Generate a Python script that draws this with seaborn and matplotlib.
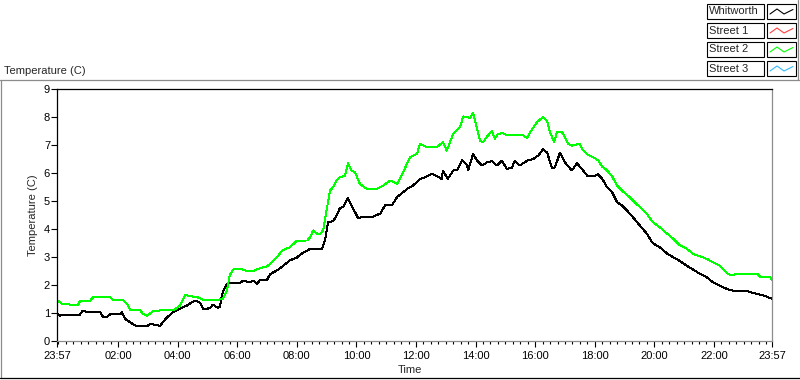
import matplotlib
matplotlib.use('Agg')
import matplotlib.pyplot as plt
import seaborn as sns
import pandas as pd
from matplotlib.patches import Rectangle
from matplotlib.lines import Line2D

# ── Data: minutes after 23:57 and temperature (C)
whitworth_min = [0, 6, 20, 36, 46, 52, 60, 77, 87, 93, 101, 107, 127, 131, 137, 147, 161, 181, 187, 201,
                 207, 213, 222, 234, 248, 262, 274, 282, 288, 294, 302, 308, 314, 324, 328, 332, 338, 344,
                 354, 369, 375, 383, 389, 395, 403, 409, 423, 429, 443, 455, 469, 483, 495, 510, 524, 534,
                 540, 546, 556, 564, 570, 576, 586, 596, 606, 616, 636, 651, 661, 675, 685, 705, 717, 731,
                 741, 755, 765, 775, 777, 787, 798, 806, 816, 826, 828, 838, 846, 856, 866, 876, 886, 896,
                 906, 916, 922, 932, 947, 959, 969, 979, 987, 997, 1003, 1013, 1023, 1037, 1047, 1057, 1069,
                 1084, 1090, 1098, 1108, 1118, 1128, 1138, 1148, 1160, 1174, 1188, 1200, 1214, 1229, 1241,
                 1255, 1269, 1281, 1295, 1309, 1321, 1335, 1349, 1361, 1376, 1390, 1396, 1410, 1422, 1440]
whitworth_temp = [1.00, 0.91, 0.92, 0.94, 0.94, 1.09, 1.03, 1.02, 1.03, 0.85, 0.86, 0.95, 0.95, 1.03, 0.79,
                  0.67, 0.52, 0.52, 0.60, 0.58, 0.52, 0.67, 0.85, 1.03, 1.15, 1.27, 1.41, 1.42, 1.37, 1.15,
                  1.15, 1.18, 1.30, 1.18, 1.22, 1.63, 1.92, 2.07, 2.08, 2.08, 2.16, 2.12, 2.10, 2.16, 2.04,
                  2.18, 2.18, 2.39, 2.52, 2.68, 2.88, 2.98, 3.15, 3.29, 3.29, 3.30, 3.60, 4.25, 4.28, 4.50,
                  4.76, 4.78, 5.10, 4.75, 4.40, 4.42, 4.44, 4.55, 4.85, 4.86, 5.14, 5.43, 5.55, 5.79, 5.85,
                  5.97, 5.88, 5.79, 6.09, 5.79, 6.09, 6.09, 6.47, 6.27, 6.09, 6.68, 6.44, 6.27, 6.38, 6.42,
                  6.27, 6.44, 6.15, 6.18, 6.44, 6.27, 6.44, 6.50, 6.62, 6.85, 6.73, 6.18, 6.20, 6.73, 6.38,
                  6.09, 6.35, 6.15, 5.88, 5.91, 5.95, 5.79, 5.49, 5.31, 4.96, 4.84, 4.66, 4.42, 4.12, 3.83,
                  3.49, 3.35, 3.12, 2.99, 2.85, 2.68, 2.55, 2.40, 2.27, 2.10, 1.98, 1.86, 1.80, 1.80, 1.80,
                  1.74, 1.68, 1.63, 1.51]

street2_min = [0, 10, 20, 30, 42, 46, 66, 73, 107, 113, 133, 141, 147, 167, 173, 181, 193, 207, 234, 248,
               258, 268, 282, 294, 322, 334, 342, 348, 354, 369, 383, 395, 409, 423, 429, 443, 455, 469, 475,
               483, 504, 510, 516, 524, 530, 536, 544, 550, 556, 564, 570, 580, 586, 594, 600, 610, 624, 644,
               657, 671, 685, 697, 711, 725, 731, 745, 765, 777, 785, 798, 812, 818, 832, 838, 842, 852, 858,
               868, 876, 882, 888, 898, 906, 939, 947, 953, 967, 979, 987, 993, 1001, 1007, 1017, 1023, 1029,
               1037, 1053, 1059, 1069, 1080, 1090, 1098, 1108, 1118, 1128, 1138, 1150, 1160, 1174, 1188, 1200,
               1214, 1229, 1241, 1255, 1269, 1281, 1295, 1309, 1321, 1335, 1349, 1359, 1370, 1410, 1416, 1436,
               1440]
street2_temp = [1.47, 1.33, 1.33, 1.27, 1.27, 1.42, 1.42, 1.57, 1.57, 1.47, 1.47, 1.33, 1.11, 1.11, 0.97,
                0.90, 1.06, 1.09, 1.09, 1.27, 1.65, 1.60, 1.57, 1.47, 1.47, 1.50, 1.80, 2.34, 2.55, 2.58,
                2.50, 2.50, 2.60, 2.67, 2.75, 3.00, 3.25, 3.35, 3.45, 3.58, 3.59, 3.71, 3.95, 3.83, 3.83,
                3.95, 4.78, 5.37, 5.50, 5.76, 5.85, 5.91, 6.35, 6.07, 6.03, 5.61, 5.43, 5.43, 5.55, 5.73,
                5.61, 6.03, 6.56, 6.68, 7.04, 6.92, 6.92, 7.10, 6.80, 7.40, 7.64, 8.02, 7.97, 8.14, 7.87,
                7.16, 7.10, 7.34, 7.50, 7.22, 7.40, 7.42, 7.34, 7.34, 7.25, 7.46, 7.82, 8.00, 7.85, 7.46,
                7.10, 7.46, 7.46, 7.28, 7.04, 6.98, 7.04, 6.83, 6.66, 6.56, 6.45, 6.23, 6.09, 5.88, 5.55,
                5.37, 5.19, 5.02, 4.78, 4.54, 4.24, 4.06, 3.83, 3.65, 3.41, 3.29, 3.11, 3.03, 2.93, 2.81,
                2.69, 2.43, 2.34, 2.40, 2.40, 2.30, 2.28, 2.18]

series_names = ['Whitworth', 'Street 1', 'Street 2', 'Street 3']
series_colors = ['#000000', '#ff4040', '#00ff00', '#33bbff']
hour_labels = ['02:00', '04:00', '06:00', '08:00', '10:00', '12:00',
               '14:00', '16:00', '18:00', '20:00', '22:00']
end_label = '23:57'
y_ticks = [0, 1, 2, 3, 4, 5, 6, 7, 8, 9]

df = pd.concat([
    pd.DataFrame({'minutes': whitworth_min, 'temp': whitworth_temp, 'series': 'Whitworth'}),
    pd.DataFrame({'minutes': street2_min, 'temp': street2_temp, 'series': 'Street 2'}),
])

W, H = 800, 380
def fx(x):
    return x / W
def fy(y):
    return 1 - y / H

sns.set_theme(style='white')
plt.rcParams['font.family'] = ['Liberation Sans', 'DejaVu Sans']
plt.rcParams['font.size'] = 8
plt.rcParams['xtick.bottom'] = True
plt.rcParams['ytick.left'] = True

fig = plt.figure(figsize=(8, 3.8), dpi=100)
fig.patch.set_facecolor('white')
ax = fig.add_axes([fx(57), fy(341), (772 - 57) / W, (341 - 89) / H])

sns.lineplot(data=df, x='minutes', y='temp', hue='series',
             palette=dict(zip(series_names, series_colors)),
             estimator=None, sort=False, legend=False, ax=ax,
             linewidth=0.7, antialiased=False)

ax.set_xlim(0, 1440)
ax.set_ylim(0, 9)
ax.set_xlabel('')
ax.set_ylabel('')

# x ticks: ends labelled 23:57, then every two hours, minor every 15 min
major = [0] + [int(s[:2]) * 60 + 3 for s in hour_labels] + [1440]
ax.set_xticks(major)
ax.set_xticklabels([end_label] + hour_labels + [end_label])
ax.set_xticks([3 + 15 * k for k in range(96)], minor=True)
ax.set_yticks(y_ticks)
ax.set_yticklabels([str(v) for v in y_ticks])

ax.tick_params(axis='x', which='major', direction='out', length=4.5, width=0.8,
               color='black', pad=3, labelsize=8, labelcolor='black', bottom=True)
ax.tick_params(axis='x', which='minor', direction='out', length=2.5, width=0.8,
               color='black', bottom=True)
ax.tick_params(axis='y', direction='out', length=4, width=0.8, color='black',
               pad=1, labelsize=8, labelcolor='black', left=True)

for side in ['top', 'left']:
    ax.spines[side].set_color('black')
    ax.spines[side].set_linewidth(0.9)
for side in ['bottom', 'right']:
    ax.spines[side].set_color('#8c8c8c')
    ax.spines[side].set_linewidth(0.9)
    ax.spines[side].set_visible(True)

# Axis titles
fig.text(fx(33), fy(215), 'Temperature (C)', rotation=90, ha='center', va='center', fontsize=8)
fig.text(fx(410), fy(370), 'Time', ha='center', va='center', fontsize=8)
fig.text(fx(4), fy(71), 'Temperature (C)', ha='left', va='center', fontsize=8)

# Outer frame
fig.add_artist(Line2D([0, 1], [fy(79.5), fy(79.5)], color='#8c8c8c', lw=0.9))
fig.add_artist(Line2D([fx(0.5), fx(0.5)], [fy(79.5), fy(378)], color='#8c8c8c', lw=0.9))
fig.add_artist(Line2D([0, 1], [fy(378), fy(378)], color='black', lw=0.9))

# Legend (label box + sample box per series)
fig.add_artist(Line2D([fx(797.5), fx(797.5)], [fy(0), fy(79.5)], color='#8c8c8c', lw=0.9))
row_tops = [4, 23, 42, 61]
for name, color, top in zip(series_names, series_colors, row_tops):
    fig.add_artist(Rectangle((fx(706.5), fy(top + 15)), 57 / W, 15 / H,
                             facecolor='white', edgecolor='black', lw=0.8))
    fig.add_artist(Rectangle((fx(767), fy(top + 15)), 29 / W, 15 / H,
                             facecolor='white', edgecolor='black', lw=0.8))
    fig.text(fx(709), fy(top + 7.5), name, ha='left', va='center', fontsize=8)
    sx = [770, 777, 784, 793]
    sy = [top + 10, top + 5, top + 10, top + 5.5]
    fig.add_artist(Line2D([fx(v) for v in sx], [fy(v) for v in sy], color=color, lw=0.8))

plt.savefig('out.png', dpi=100)
